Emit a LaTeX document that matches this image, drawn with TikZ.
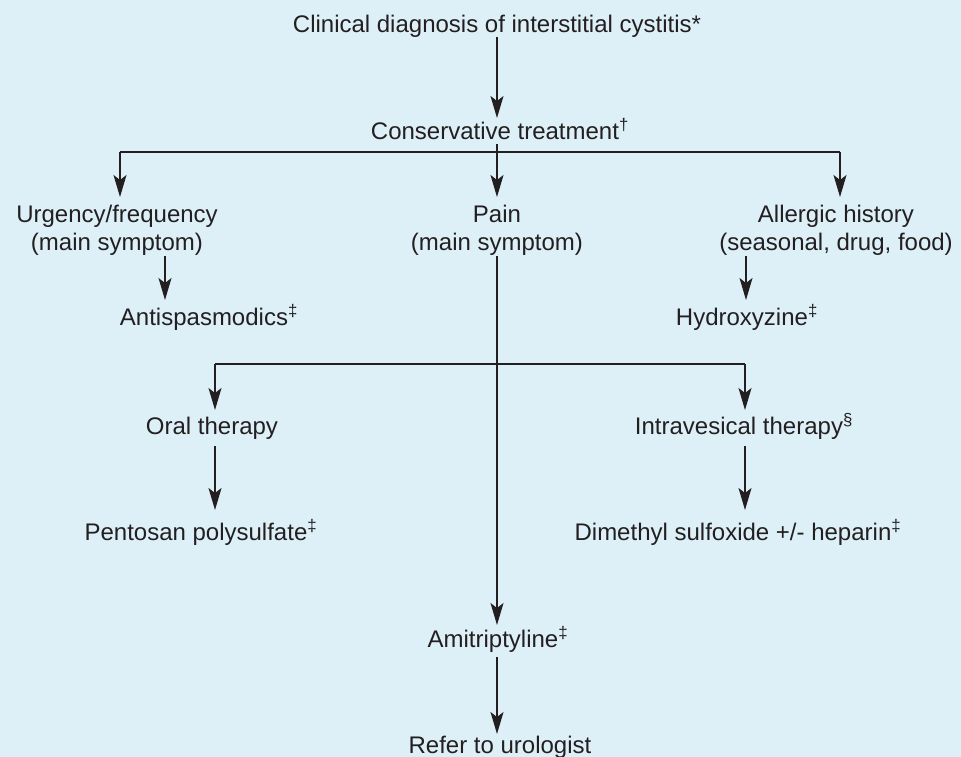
\documentclass[tikz,border=0pt]{standalone}
\usepackage{fontspec}
\setmainfont{Liberation Sans}
\usetikzlibrary{arrows.meta}
\definecolor{bgblue}{RGB}{221,240,248}
\definecolor{ink}{RGB}{35,31,32}
\newcommand{\sups}[1]{\rlap{\textsuperscript{#1}}}
\begin{document}
\begin{tikzpicture}[x=1pt,y=-1pt,
  lbl/.style={inner sep=0pt, anchor=north, text=ink, align=center,
    font=\fontsize{24}{28}\selectfont},
  one/.style={lbl, text height=17pt, text depth=5pt},
  ln/.style={draw=ink, line width=1.3pt},
  arr/.style={ln, -{Stealth[length=22pt,width=13pt,inset=5pt]}}]
\useasboundingbox[fill=bgblue] (0,0) rectangle (961,757);

% nodes
\node[one] (title) at (497,15) {Clinical diagnosis of interstitial cystitis*};
\node[one] (cons) at (495,122) {Conservative treatment\sups{†}};
\node[lbl] (urg) at (117,205) {Urgency/frequency\\(main symptom)};
\node[lbl] (pain) at (497,205) {Pain\\(main symptom)};
\node[lbl] (allerg) at (836,205) {Allergic history\\(seasonal, drug, food)};
\node[one] (anti) at (204,308) {Antispasmodics\sups{‡}};
\node[one] (hydro) at (742,308) {Hydroxyzine\sups{‡}};
\node[one] (oral) at (212,417) {Oral therapy};
\node[one] (intra) at (739,417) {Intravesical therapy\sups{§}};
\node[one] (pento) at (196,523) {Pentosan polysulfate\sups{‡}};
\node[one] (dmso) at (733,523) {Dimethyl sulfoxide +/- heparin\sups{‡}};
\node[one] (ami) at (493,630) {Amitriptyline\sups{‡}};
\node[one] (refer) at (500,736) {Refer to urologist};

% junction coordinates
\coordinate (j1) at (497,152);
\coordinate (hL) at (120,152);
\coordinate (hR) at (840,152);
\coordinate (aX) at (165,0);
\coordinate (hX) at (746,0);
\coordinate (h2L) at (215,364);
\coordinate (h2R) at (745,364);
\coordinate (pX) at (497,0);

% connectors
\draw[arr, shorten >=4pt] (title.south -| pX) -- (cons.north -| pX);
\draw[ln] (cons.south -| j1) -- (j1);
\draw[ln] (hL) -- (hR);
\draw[arr, shorten >=8pt] (hL) -- (hL |- urg.north);
\draw[arr, shorten >=8pt] (j1) -- (j1 |- pain.north);
\draw[arr, shorten >=8pt] (hR) -- (hR |- allerg.north);
\draw[arr, shorten >=8pt] (urg.south -| aX) -- (anti.north -| aX);
\draw[arr, shorten >=8pt] (allerg.south -| hX) -- (hydro.north -| hX);
\draw[arr, shorten >=5pt] (pain.south -| pX) -- (ami.north -| pX);
\draw[ln] (h2L) -- (h2R);
\draw[arr, shorten >=7pt] (h2L) -- (h2L |- oral.north);
\draw[arr, shorten >=7pt] (h2R) -- (h2R |- intra.north);
\draw[arr, shorten <=7pt, shorten >=13pt] (oral.south -| h2L) -- (pento.north -| h2L);
\draw[arr, shorten <=7pt, shorten >=13pt] (intra.south -| h2R) -- (dmso.north -| h2R);
\draw[arr, shorten <=5pt, shorten >=2pt] (ami.south -| pX) -- (refer.north -| pX);
\end{tikzpicture}
\end{document}
